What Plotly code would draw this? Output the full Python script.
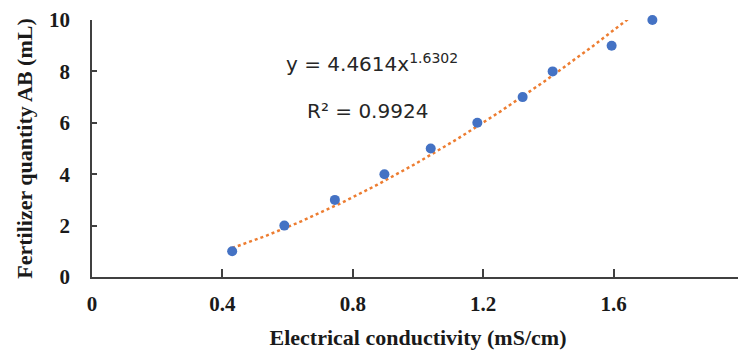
import numpy as np
import plotly.graph_objects as go

# Data
conductivity = [0.43, 0.59, 0.745, 0.897, 1.039, 1.182, 1.321, 1.413, 1.594, 1.719]
fertilizer = [1, 2, 3, 4, 5, 6, 7, 8, 9, 10]

# Power trendline coefficients shown in the chart
coef_a = 4.4614
coef_b = 1.6302
r_squared = 0.9924
trend_start = 0.43
trend_end = 1.645

x_ticks = [0, 0.4, 0.8, 1.2, 1.6, 2]
x_tick_labels = ["0", "0.4", "0.8", "1.2", "1.6", "2"]
y_ticks = [0, 2, 4, 6, 8, 10]

trend_x = np.linspace(trend_start, trend_end, 200)
trend_y = coef_a * trend_x ** coef_b

serif = "Liberation Serif, Times New Roman, serif"
sans = "DejaVu Sans, sans-serif"
ink = "#1a1a1a"

fig = go.Figure()
fig.add_trace(go.Scatter(
    x=trend_x, y=trend_y, mode="lines",
    line=dict(color="#ED7D31", width=2.5, dash="dot"),
    hoverinfo="skip", cliponaxis=False,
))
fig.add_trace(go.Scatter(
    x=conductivity, y=fertilizer, mode="markers",
    marker=dict(color="#4472C4", size=10),
    cliponaxis=False,
))

fig.add_annotation(
    x=0.858, y=8.33, xref="x", yref="y",
    text=f"y = {coef_a}x<sup>{coef_b}</sup>",
    showarrow=False, font=dict(family=sans, size=20, color="#262626"),
)
fig.add_annotation(
    x=0.845, y=6.45, xref="x", yref="y",
    text=f"R² = {r_squared}",
    showarrow=False, font=dict(family=sans, size=20, color="#262626"),
)

fig.update_layout(
    width=738, height=343,
    margin=dict(l=84, r=2, t=12, b=74),
    paper_bgcolor="white", plot_bgcolor="white",
    showlegend=False,
    xaxis=dict(
        range=[0, 2], tickvals=x_ticks, ticktext=x_tick_labels,
        automargin=False, ticklabeloverflow="allow",
        showgrid=False, zeroline=False,
        showline=True, linecolor="#404040", linewidth=1.5,
        ticks="inside", ticklen=8, tickcolor="#404040", tickwidth=1.5,
        ticklabelstandoff=7,
        tickfont=dict(family=serif, size=21, color=ink, weight="bold"),
        title=dict(text="Electrical conductivity (mS/cm)",
                   font=dict(family=serif, size=22, color=ink, weight="bold"), standoff=15),
    ),
    yaxis=dict(
        range=[0, 10], tickvals=y_ticks,
        automargin=False, ticklabeloverflow="allow",
        showgrid=False, zeroline=False,
        showline=True, linecolor="#404040", linewidth=1.5,
        ticks="inside", ticklen=5, tickcolor="#404040", tickwidth=1.5,
        ticklabelstandoff=16,
        tickfont=dict(family=serif, size=21, color=ink, weight="bold"),
        title=dict(text="Fertilizer quantity AB (mL)",
                   font=dict(family=serif, size=22, color=ink, weight="bold"), standoff=10),
    ),
)

fig.write_html("out.html")
